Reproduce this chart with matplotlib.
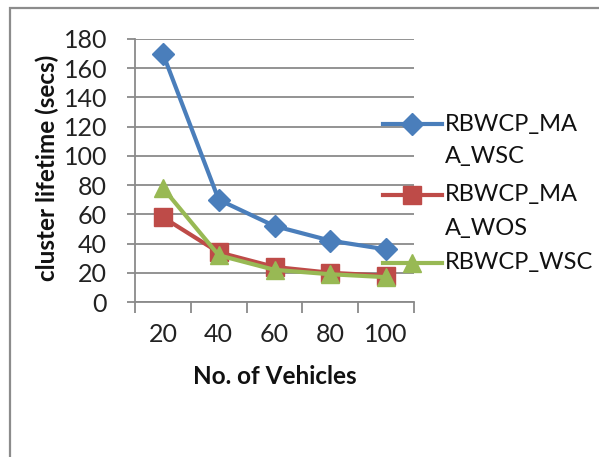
import matplotlib
matplotlib.use("Agg")
import matplotlib.pyplot as plt
from matplotlib.lines import Line2D
from matplotlib.patches import Rectangle

categories = ["20", "40", "60", "80", "100"]
maa_wsc = [170, 70, 52, 42, 36]
maa_wos = [58, 34, 24, 20, 18]
wsc = [78, 32, 22, 19, 17]
series_names = ["RBWCP_MA\nA_WSC", "RBWCP_MA\nA_WOS", "RBWCP_WSC"]
y_ticks = [0, 20, 40, 60, 80, 100, 120, 140, 160, 180]

plt.rcParams['font.family'] = ['Lato', 'DejaVu Sans']

W, H = 599, 457
fig = plt.figure(figsize=(W / 100, H / 100), dpi=100)

def fx(px):
    return px / W

def fy(py):
    return 1 - py / H

# outer frame
fig.add_artist(Rectangle((fx(10), fy(470)), fx(620), 462 / H, transform=fig.transFigure,
                         fill=False, edgecolor="#8c8c8c", linewidth=1.6))

ax = fig.add_axes([fx(135), fy(302), fx(414) - fx(135), fy(39) - fy(302)])

grid_c = "#8a8a8a"
colors = ["#4A7EBB", "#BE4B48", "#98B954"]
markers = ["D", "s", "^"]
msizes = [11.5, 12.5, 13.5]
x = list(range(len(categories)))
for vals, c, m, ms in zip([maa_wsc, maa_wos, wsc], colors, markers, msizes):
    ax.plot(x, vals, color=c, linewidth=3.0, marker=m, markersize=ms,
            markerfacecolor=c, markeredgecolor=c, zorder=3, clip_on=False)

ax.set_xlim(-0.5, len(categories) - 0.5)
ax.set_ylim(0, 180)
ax.set_yticks(y_ticks)
ax.yaxis.grid(True, color=grid_c, linewidth=1.3)
ax.set_axisbelow(True)
for s in ["top", "right"]:
    ax.spines[s].set_visible(False)
for s in ["left", "bottom"]:
    ax.spines[s].set_color(grid_c)
    ax.spines[s].set_linewidth(1.3)

ax.set_xticks([i - 0.5 for i in range(len(categories) + 1)])
ax.set_xticklabels([])
ax.set_xticks(x, minor=True)
ax.set_xticklabels(categories, minor=True, fontsize=18, color="#222222")
ax.tick_params(axis="x", which="major", length=8, width=1.3, color=grid_c, direction="out")
ax.tick_params(axis="x", which="minor", length=0, pad=15)
ax.tick_params(axis="y", length=6, width=1.3, color=grid_c, labelsize=18,
               labelcolor="#222222", pad=14)

fig.text(fx(275), fy(376), "No. of Vehicles", fontsize=17.5, fontweight="bold",
         ha="center", va="center", color="#111111")
fig.text(fx(47), fy(168), "cluster lifetime (secs)", rotation=90, fontsize=17.5,
         fontweight="bold", ha="center", va="center", color="#111111")

# legend (manual, Excel style)
leg_y = [124, 195, 263]
for name, c, m, ms, yy in zip(series_names, colors, markers, msizes, leg_y):
    fig.add_artist(Line2D([fx(383), fx(442)], [fy(yy), fy(yy)], color=c, linewidth=3.0,
                          transform=fig.transFigure, zorder=5))
    fig.add_artist(Line2D([fx(412)], [fy(yy)], color=c, marker=m, markersize=ms,
                          transform=fig.transFigure, zorder=6))
    lines = name.split("\n")
    for k, ln in enumerate(lines):
        fig.text(fx(445), fy(yy + k * 33), ln, fontsize=17, ha="left", va="center",
                 color="#111111")

fig.savefig("out.png", dpi=100)
